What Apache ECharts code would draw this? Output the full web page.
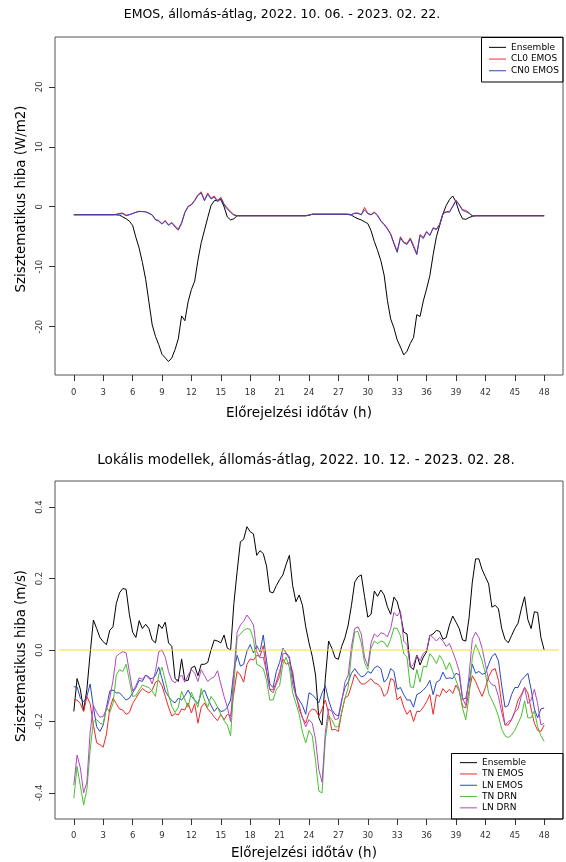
<!DOCTYPE html>
<html>
<head>
<meta charset="utf-8">
<script src="https://cdn.jsdelivr.net/npm/echarts@6/dist/echarts.min.js"></script>
<style>
body{margin:0;background:#fff;}
#chart{width:566px;height:862px;}
</style>
</head>
<body>
<div id="chart"></div>
<script>
// time step of the data, hours (20 min)
var STEP = 1/3;
var xTicks = [0,3,6,9,12,15,18,21,24,27,30,33,36,39,42,45,48];
var yTicksTop = [-20,-10,0,10,20];
var yTicksBot = [-0.4,-0.2,0,0.2,0.4];

// EMOS panel (W/m2)
var ens1 = [
 -1.33,-1.33,-1.33,-1.33,-1.33,-1.33,-1.33,-1.33,-1.33,-1.33,-1.33,-1.33,
 -1.33,-1.35,-1.4,-1.7,-2.0,-2.4,-3.1,-5.1,-6.9,-9.3,-12.1,-15.9,
 -19.7,-21.6,-23.0,-24.6,-25.2,-25.8,-25.2,-23.8,-22.0,-18.2,-19.0,-15.8,
 -13.8,-12.4,-8.9,-6.0,-3.9,-1.8,0.2,1.0,1.1,1.2,0.0,-1.7,
 -2.2,-2.0,-1.5,-1.5,-1.5,-1.5,-1.5,-1.5,-1.5,-1.5,-1.5,-1.5,
 -1.5,-1.5,-1.5,-1.5,-1.5,-1.5,-1.5,-1.5,-1.5,-1.5,-1.5,-1.5,
 -1.4,-1.25,-1.25,-1.25,-1.25,-1.25,-1.25,-1.25,-1.25,-1.25,-1.25,-1.25,
 -1.3,-1.4,-1.75,-2.0,-2.2,-2.5,-2.8,-4.0,-5.8,-7.3,-9.0,-11.4,
 -15.6,-18.7,-20.2,-22.2,-23.4,-24.7,-24.1,-22.8,-21.8,-18.0,-18.3,-15.7,
 -13.7,-11.5,-8.0,-5.0,-3.1,-1.2,0.2,1.2,1.8,0.8,-0.9,-2.0,
 -2.1,-1.8,-1.6,-1.5,-1.5,-1.5,-1.5,-1.5,-1.5,-1.5,-1.5,-1.5,
 -1.5,-1.5,-1.5,-1.5,-1.5,-1.5,-1.5,-1.5,-1.5,-1.5,-1.5,-1.5,
 -1.5
];
var cl0 = [
 -1.33,-1.33,-1.33,-1.33,-1.33,-1.33,-1.33,-1.33,-1.33,-1.33,-1.33,-1.33,
 -1.33,-1.25,-1.1,-1.05,-1.4,-1.3,-1.1,-0.9,-0.75,-0.8,-0.85,-1.05,
 -1.35,-2.1,-2.3,-2.8,-2.3,-3.0,-2.6,-3.2,-3.7,-2.6,-0.9,0.1,
 0.4,1.1,2.0,2.5,1.1,2.3,1.4,1.8,1.0,1.6,0.5,-0.2,
 -0.8,-1.3,-1.5,-1.5,-1.5,-1.5,-1.5,-1.5,-1.5,-1.5,-1.5,-1.5,
 -1.5,-1.5,-1.5,-1.5,-1.5,-1.5,-1.5,-1.5,-1.5,-1.5,-1.5,-1.5,
 -1.4,-1.25,-1.25,-1.25,-1.25,-1.25,-1.25,-1.25,-1.25,-1.25,-1.25,-1.25,
 -1.25,-1.3,-1.05,-1.05,-1.3,-0.1,-1.1,-1.3,-0.85,-1.4,-2.3,-2.9,
 -3.6,-4.5,-6.0,-7.4,-5.0,-5.9,-6.1,-5.2,-6.4,-7.8,-4.6,-5.1,
 -4.1,-4.7,-3.5,-3.7,-2.9,-1.1,-0.8,-0.8,0.1,1.1,0.4,-0.5,
 -0.6,-1.0,-1.5,-1.5,-1.5,-1.5,-1.5,-1.5,-1.5,-1.5,-1.5,-1.5,
 -1.5,-1.5,-1.5,-1.5,-1.5,-1.5,-1.5,-1.5,-1.5,-1.5,-1.5,-1.5,
 -1.5
];
var cn0 = [
 -1.33,-1.33,-1.33,-1.33,-1.33,-1.33,-1.33,-1.33,-1.33,-1.33,-1.33,-1.33,
 -1.33,-1.3,-1.2,-1.15,-1.5,-1.35,-1.15,-0.95,-0.8,-0.8,-0.85,-1.1,
 -1.4,-2.2,-2.4,-2.9,-2.4,-3.1,-2.7,-3.4,-3.9,-2.8,-1.0,0.0,
 0.3,1.0,1.9,2.3,1.0,2.1,1.3,1.6,0.8,1.4,0.3,-0.4,
 -0.95,-1.4,-1.5,-1.5,-1.5,-1.5,-1.5,-1.5,-1.5,-1.5,-1.5,-1.5,
 -1.5,-1.5,-1.5,-1.5,-1.5,-1.5,-1.5,-1.5,-1.5,-1.5,-1.5,-1.5,
 -1.4,-1.25,-1.25,-1.25,-1.25,-1.25,-1.25,-1.25,-1.25,-1.25,-1.25,-1.25,
 -1.25,-1.3,-1.1,-1.1,-1.35,-0.5,-1.15,-1.35,-1.0,-1.5,-2.4,-3.0,
 -3.7,-4.6,-6.2,-7.6,-5.2,-6.0,-6.3,-5.4,-6.7,-8.0,-4.8,-5.3,
 -4.2,-4.8,-3.6,-3.8,-3.0,-1.2,-0.9,-0.9,0.0,1.0,0.3,-0.6,
 -0.8,-1.1,-1.5,-1.5,-1.5,-1.5,-1.5,-1.5,-1.5,-1.5,-1.5,-1.5,
 -1.5,-1.5,-1.5,-1.5,-1.5,-1.5,-1.5,-1.5,-1.5,-1.5,-1.5,-1.5,
 -1.5
];

// local models panel (m/s)
var ens2 = [
 -0.172,-0.080,-0.110,-0.170,-0.110,-0.010,0.084,0.060,0.035,0.023,0.015,0.055,
 0.065,0.130,0.160,0.172,0.170,0.100,0.050,0.035,0.082,0.060,0.072,0.060,
 0.028,0.020,0.072,0.060,0.078,0.020,0.010,-0.080,-0.088,-0.025,-0.085,-0.085,
 -0.050,-0.045,-0.072,-0.040,-0.040,-0.035,0.000,0.028,0.025,0.020,0.042,0.005,
 0.000,0.130,0.220,0.303,0.310,0.345,0.331,0.325,0.265,0.278,0.270,0.235,
 0.163,0.160,0.180,0.197,0.210,0.240,0.265,0.180,0.135,0.154,0.125,0.065,
 0.020,-0.018,-0.070,-0.190,-0.210,-0.080,0.025,0.005,-0.022,-0.026,0.010,0.034,
 0.070,0.125,0.190,0.205,0.210,0.150,0.092,0.100,0.165,0.150,0.168,0.154,
 0.121,0.100,0.148,0.135,0.100,0.050,0.045,-0.047,-0.055,-0.014,-0.042,-0.020,
 -0.005,0.040,0.045,0.055,0.052,0.030,0.035,0.070,0.095,0.078,0.060,0.028,
 0.025,0.090,0.190,0.255,0.255,0.225,0.205,0.185,0.120,0.125,0.115,0.060,
 0.030,0.020,0.040,0.060,0.075,0.115,0.149,0.085,0.060,0.107,0.105,0.035,
 0.000
];
var tnEmos = [
 -0.140,-0.140,-0.150,-0.172,-0.130,-0.150,-0.210,-0.260,-0.265,-0.272,-0.235,-0.165,
 -0.135,-0.150,-0.165,-0.168,-0.180,-0.175,-0.150,-0.135,-0.120,-0.108,-0.115,-0.120,
 -0.112,-0.090,-0.085,-0.100,-0.130,-0.160,-0.185,-0.178,-0.182,-0.165,-0.168,-0.148,
 -0.176,-0.150,-0.205,-0.160,-0.148,-0.165,-0.175,-0.188,-0.198,-0.180,-0.195,-0.180,
 -0.185,-0.120,-0.060,-0.070,-0.090,-0.040,-0.025,-0.028,-0.015,-0.018,0.012,-0.060,
 -0.110,-0.112,-0.090,-0.060,-0.025,-0.040,-0.035,-0.060,-0.125,-0.165,-0.190,-0.205,
 -0.175,-0.165,-0.168,-0.185,-0.165,-0.140,-0.178,-0.224,-0.222,-0.228,-0.175,-0.135,
 -0.128,-0.100,-0.068,-0.082,-0.095,-0.095,-0.088,-0.080,-0.092,-0.095,-0.105,-0.130,
 -0.120,-0.080,-0.085,-0.140,-0.130,-0.160,-0.180,-0.168,-0.200,-0.172,-0.172,-0.160,
 -0.145,-0.125,-0.180,-0.125,-0.130,-0.108,-0.120,-0.110,-0.122,-0.098,-0.115,-0.158,
 -0.162,-0.115,-0.072,-0.088,-0.110,-0.130,-0.105,-0.075,-0.057,-0.052,-0.085,-0.150,
 -0.210,-0.210,-0.195,-0.172,-0.140,-0.125,-0.105,-0.120,-0.165,-0.205,-0.225,-0.228,
 -0.210
];
var lnEmos = [
 -0.103,-0.103,-0.135,-0.145,-0.130,-0.095,-0.160,-0.215,-0.228,-0.210,-0.160,-0.115,
 -0.112,-0.120,-0.120,-0.130,-0.140,-0.135,-0.120,-0.105,-0.085,-0.088,-0.070,-0.080,
 -0.080,-0.072,-0.048,-0.080,-0.115,-0.130,-0.142,-0.148,-0.135,-0.140,-0.128,-0.112,
 -0.130,-0.140,-0.150,-0.122,-0.112,-0.135,-0.155,-0.172,-0.160,-0.172,-0.170,-0.160,
 -0.140,-0.060,-0.015,-0.045,-0.040,-0.003,0.015,-0.008,0.012,-0.005,0.042,-0.030,
 -0.095,-0.105,-0.060,-0.035,0.005,-0.008,-0.020,-0.075,-0.125,-0.140,-0.155,-0.180,
 -0.120,-0.125,-0.135,-0.148,-0.120,-0.100,-0.140,-0.168,-0.180,-0.185,-0.140,-0.105,
 -0.090,-0.065,-0.052,-0.065,-0.075,-0.072,-0.060,-0.065,-0.050,-0.045,-0.052,-0.090,
 -0.080,-0.052,-0.060,-0.110,-0.105,-0.125,-0.140,-0.140,-0.160,-0.125,-0.120,-0.112,
 -0.102,-0.085,-0.125,-0.090,-0.085,-0.062,-0.080,-0.078,-0.080,-0.065,-0.070,-0.138,
 -0.135,-0.090,-0.040,-0.065,-0.060,-0.068,-0.065,-0.040,-0.018,-0.010,-0.030,-0.100,
 -0.160,-0.155,-0.125,-0.105,-0.105,-0.085,-0.075,-0.065,-0.110,-0.165,-0.190,-0.165,
 -0.162
];
var tnDrn = [
 -0.415,-0.326,-0.380,-0.434,-0.390,-0.280,-0.200,-0.195,-0.205,-0.208,-0.160,-0.175,
 -0.150,-0.070,-0.055,-0.060,-0.040,-0.085,-0.130,-0.128,-0.112,-0.098,-0.102,-0.105,
 -0.115,-0.130,-0.070,-0.048,-0.085,-0.125,-0.158,-0.175,-0.160,-0.115,-0.140,-0.160,
 -0.118,-0.140,-0.160,-0.108,-0.140,-0.160,-0.130,-0.142,-0.160,-0.180,-0.198,-0.210,
 -0.240,-0.100,0.035,0.045,0.055,0.060,0.058,0.030,-0.040,-0.045,-0.052,-0.085,
 -0.140,-0.140,-0.110,-0.100,-0.040,-0.020,-0.050,-0.120,-0.150,-0.180,-0.230,-0.260,
 -0.225,-0.240,-0.310,-0.395,-0.400,-0.250,-0.185,-0.195,-0.215,-0.215,-0.175,-0.135,
 -0.105,-0.010,0.050,0.052,0.020,-0.035,-0.055,0.005,0.025,0.018,0.025,0.022,
 0.008,0.030,0.062,0.060,0.040,-0.010,-0.020,-0.103,-0.105,-0.055,-0.090,-0.045,
 -0.048,-0.010,-0.022,-0.038,-0.015,-0.030,-0.055,-0.035,-0.060,-0.085,-0.110,-0.163,
 -0.195,-0.130,-0.020,0.015,-0.005,-0.030,-0.065,-0.122,-0.140,-0.160,-0.185,-0.222,
 -0.240,-0.245,-0.238,-0.225,-0.205,-0.185,-0.142,-0.190,-0.190,-0.170,-0.215,-0.240,
 -0.256
];
var lnDrn = [
 -0.378,-0.294,-0.330,-0.400,-0.370,-0.230,-0.155,-0.175,-0.188,-0.186,-0.165,-0.135,
 -0.085,-0.018,-0.010,-0.005,-0.008,-0.060,-0.115,-0.100,-0.078,-0.082,-0.070,-0.075,
 -0.095,-0.060,-0.005,0.000,-0.020,-0.060,-0.085,-0.092,-0.080,-0.070,-0.090,-0.070,
 -0.055,-0.065,-0.088,-0.055,-0.072,-0.088,-0.080,-0.075,-0.058,-0.095,-0.130,-0.160,
 -0.200,-0.060,0.050,0.070,0.080,0.098,0.085,0.070,-0.005,-0.022,-0.020,-0.062,
 -0.112,-0.120,-0.095,-0.075,-0.010,-0.010,-0.025,-0.095,-0.130,-0.155,-0.190,-0.215,
 -0.195,-0.205,-0.250,-0.335,-0.370,-0.230,-0.165,-0.172,-0.195,-0.192,-0.145,-0.090,
 -0.070,0.010,0.060,0.065,0.045,-0.020,-0.045,0.020,0.045,0.037,0.048,0.045,
 0.037,0.060,0.105,0.095,0.110,0.025,0.015,-0.048,-0.040,-0.015,-0.030,-0.010,
 -0.002,0.042,0.035,0.025,0.035,0.025,0.010,0.018,-0.005,-0.030,-0.060,-0.135,
 -0.155,-0.070,0.030,0.050,0.035,0.005,-0.040,-0.085,-0.097,-0.100,-0.130,-0.175,
 -0.210,-0.200,-0.195,-0.175,-0.165,-0.130,-0.105,-0.150,-0.140,-0.110,-0.150,-0.210,
 -0.205
];
// yellow reference line at 0
var zeroLine = [[-1.5, 0], [49.5, 0]];

var FONT = '"DejaVu Sans", Verdana, sans-serif';

function pairs(vals)
{
	var out = [];
	for (var i = 0; i < vals.length; i++) out.push([i * STEP, vals[i]]);
	return out;
}

function xAxisOf(gi, margin)
{
	return {
		gridIndex: gi, type: 'value', min: -1.92, max: 49.92,
		axisLine: {show: false, onZero: false}, splitLine: {show: false},
		axisTick: {show: true, length: 6, customValues: xTicks, lineStyle: {color: '#333'}},
		axisLabel: {customValues: xTicks, fontSize: 8.5, fontFamily: FONT, color: '#333', margin: margin}
	};
}

function yAxisOf(gi, lo, hi, ticks, fmt)
{
	return {
		gridIndex: gi, type: 'value', min: lo, max: hi,
		axisLine: {show: false, onZero: false}, splitLine: {show: false},
		axisTick: {show: true, length: 6, customValues: ticks, lineStyle: {color: '#333'}},
		axisLabel: {customValues: ticks, rotate: 90, fontSize: 8.5, fontFamily: FONT, color: '#333', margin: 11, formatter: fmt}
	};
}

function line(name, vals, color, gi)
{
	return {
		name: name, type: 'line', xAxisIndex: gi, yAxisIndex: gi,
		data: pairs(vals), color: color, showSymbol: false, symbol: 'none',
		lineStyle: {width: 1, color: color}, emphasis: {disabled: true}
	};
}

function legendOf(names, left, top, lh)
{
	return {
		data: names, orient: 'vertical', left: left, top: top, padding: 0, itemGap: 0,
		itemWidth: 17, itemHeight: 1, icon: 'rect', selectedMode: false,
		textStyle: {fontSize: 9, lineHeight: lh, fontFamily: FONT, color: '#000'}
	};
}

function textEl(str, x, y, size, rot)
{
	return {
		type: 'text', x: x, y: y, rotation: rot || 0,
		style: {text: str, font: size + 'px ' + FONT, fill: '#000', textAlign: 'center', textVerticalAlign: 'middle'}
	};
}

function boxEl(x, y, w, h)
{
	return {type: 'rect', shape: {x: x, y: y, width: w, height: h}, style: {fill: 'none', stroke: '#000', lineWidth: 1}, z: 10};
}

var myChart = echarts.init(document.getElementById('chart'));
var option = {
	animation: false,
	backgroundColor: '#fff',
	grid: [
		{left: 55, top: 37, width: 508, height: 338, show: true, borderColor: '#555', borderWidth: 1},
		{left: 55, top: 481, width: 508, height: 338, show: true, borderColor: '#555', borderWidth: 1}
	],
	xAxis: [xAxisOf(0, 13), xAxisOf(1, 12)],
	yAxis: [
		yAxisOf(0, -28.05, 28.3, yTicksTop, function (v) { return String(v); }),
		yAxisOf(1, -0.473, 0.473, yTicksBot, function (v) { return v.toFixed(1); })
	],
	legend: [
		legendOf(['Ensemble', 'CL0 EMOS', 'CN0 EMOS'], 489, 41.5, 11.7),
		legendOf(['Ensemble', 'TN EMOS', 'LN EMOS', 'TN DRN', 'LN DRN'], 460, 757, 11.3)
	],
	graphic: [
		textEl('EMOS, állomás-átlag, 2022. 10. 06. - 2023. 02. 22.', 282, 15, 12.5),
		textEl('Lokális modellek, állomás-átlag, 2022. 10. 12. - 2023. 02. 28.', 306, 460, 13.6),
		textEl('Előrejelzési időtáv (h)', 299, 413, 13.5),
		textEl('Előrejelzési időtáv (h)', 304, 853, 13.5),
		textEl('Szisztematikus hiba (W/m2)', 22, 199, 13.4, Math.PI / 2),
		textEl('Szisztematikus hiba (m/s)', 22, 656, 13.4, Math.PI / 2),
		boxEl(481.5, 37.5, 81.5, 44.5),
		boxEl(451.5, 753.5, 111.5, 65.5)
	],
	series: [
		line('Ensemble', ens1, '#000000', 0),
		line('CL0 EMOS', cl0, '#f03030', 0),
		line('CN0 EMOS', cn0, '#3040c0', 0),
		line('Ensemble', ens2, '#000000', 1),
		line('TN EMOS', tnEmos, '#f02828', 1),
		line('LN EMOS', lnEmos, '#2848c0', 1),
		line('TN DRN', tnDrn, '#48c030', 1),
		line('LN DRN', lnDrn, '#b048c0', 1),
		{
			name: 'zero', type: 'line', xAxisIndex: 1, yAxisIndex: 1, data: zeroLine,
			showSymbol: false, symbol: 'none', lineStyle: {width: 1, color: '#f0e030'}, z: 5
		}
	]
};
myChart.setOption(option);
</script>
</body>
</html>
